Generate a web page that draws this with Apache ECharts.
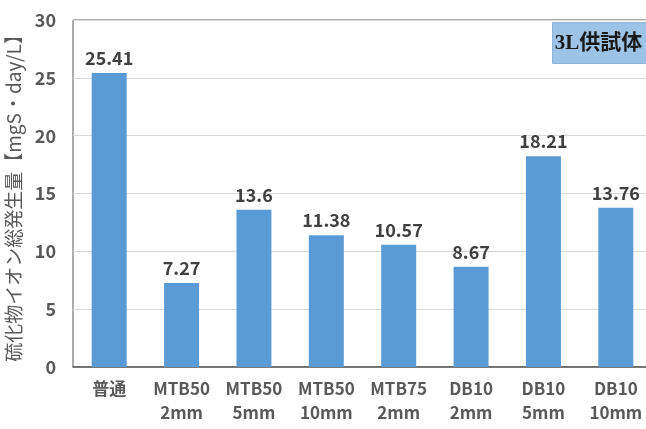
<!DOCTYPE html>
<html>
<head>
<meta charset="utf-8">
<script src="https://cdn.jsdelivr.net/npm/echarts@6/dist/echarts.min.js"></script>
<style>
  html, body { margin: 0; padding: 0; background: #fff; }
  #chart { width: 646px; height: 429px; }
</style>
</head>
<body>
<div id="chart"></div>
<script>
// categories (two lines each) and totals
const categories = ['普通', 'MTB50\n2mm', 'MTB50\n5mm', 'MTB50\n10mm', 'MTB75\n2mm', 'DB10\n2mm', 'DB10\n5mm', 'DB10\n10mm']
const values = [25.41, 7.27, 13.6, 11.38, 10.57, 8.67, 18.21, 13.76]
const yTicks = [0, 5, 10, 15, 20, 25, 30]

const font = "'Liberation Sans Narrow', 'Noto Sans CJK JP', sans-serif"
const chart = echarts.init(document.getElementById('chart'))
chart.setOption({
  animation: false,
  grid: {
    left: 73,
    right: -6,
    top: 20,
    bottom: 62,
    containLabel: false,
    outerBoundsMode: 'none',
    show: true,
    borderColor: '#595959',
    borderWidth: 1
  },
  xAxis: {
    type: 'category',
    data: categories,
    axisLine: { lineStyle: { color: '#595959', width: 1.5 } },
    axisTick: { show: false },
    axisLabel: {
      color: '#595959',
      fontSize: 17,
      fontWeight: 'bold',
      fontFamily: font,
      lineHeight: 24,
      margin: 10,
      interval: 0
    }
  },
  yAxis: {
    type: 'value',
    min: yTicks[0],
    max: yTicks[yTicks.length - 1],
    interval: 5,
    name: '硫化物イオン総発生量【mgS・day/L】',
    nameLocation: 'middle',
    nameRotate: 90,
    nameGap: 50,
    nameTextStyle: {
      color: '#595959',
      fontSize: 19,
      fontFamily: "'Noto Sans CJK JP', sans-serif"
    },
    axisLine: { show: false },
    axisTick: { show: false },
    splitLine: { lineStyle: { color: '#d9d9d9', width: 1 } },
    axisLabel: {
      color: '#595959',
      fontSize: 18,
      fontWeight: 'bold',
      fontFamily: font,
      margin: 17
    }
  },
  series: [{
    type: 'bar',
    data: values,
    barWidth: 35,
    itemStyle: { color: '#5b9bd5' },
    label: {
      show: true,
      position: 'top',
      distance: 6,
      color: '#404040',
      fontSize: 18,
      fontWeight: 'bold',
      fontFamily: font
    }
  }],
  graphic: [{
    type: 'group',
    left: 552,
    top: 22,
    children: [{
      type: 'rect',
      shape: { x: 0, y: 0, width: 100, height: 41 },
      style: { fill: '#9dc3e6', stroke: '#8fb4d8', lineWidth: 1 }
    }, {
      type: 'text',
      x: 46,
      y: 21,
      style: {
        text: '3L供試体',
        fill: '#1a1a1a',
        fontSize: 21,
        fontWeight: 'bold',
        fontFamily: "'Liberation Serif', 'Noto Sans CJK JP', serif",
        align: 'center',
        verticalAlign: 'middle'
      }
    }]
  }]
})
</script>
</body>
</html>
